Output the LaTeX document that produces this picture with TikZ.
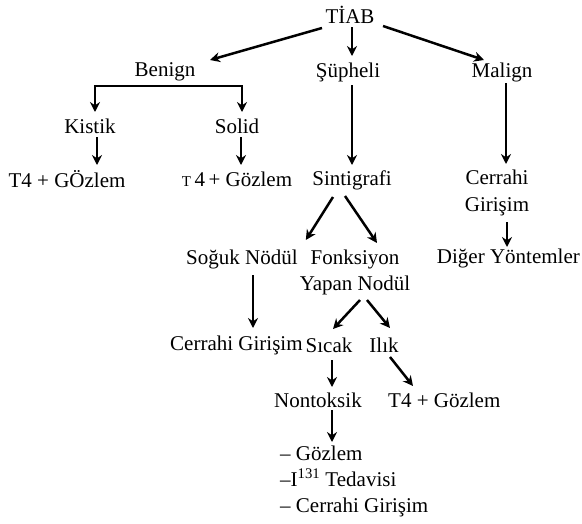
\documentclass[tikz,border=0pt]{standalone}
\usepackage{fontspec}
\setmainfont{Liberation Serif}
\usetikzlibrary{arrows.meta}
\begin{document}
\begin{tikzpicture}[x=1pt,y=-1pt,
  lbl/.style={inner sep=0pt,font=\fontsize{21}{26}\selectfont},
  arr/.style={line width=2.5pt,-{Stealth[length=10pt,width=10pt]}},
  bar/.style={line width=2.5pt}]
\useasboundingbox[fill=white] (0,0) rectangle (582,523);
% nodes
\node[lbl] (tiab) at (350,15) {TİAB};
\node[lbl] (benign) at (165,72) {Benign};
\node[lbl] (supheli) at (348,72) {Şüpheli};
\node[lbl] (malign) at (502,72) {Malign};
\node[lbl] (kistik) at (90,126) {Kistik};
\node[lbl] (solid) at (237,126) {Solid};
\node[lbl] (t4a) at (67,179) {T4 + GÖzlem};
\node[lbl] (t4b) at (237,179) {{\fontsize{15}{15}\selectfont T}\,4\,+ Gözlem};
\node[lbl] (sinti) at (352,180) {Sintigrafi};
\node[lbl,align=center,font=\fontsize{21}{27}\selectfont] (cerrahi) at (497,193) {Cerrahi\\Girişim};
\node[lbl,anchor=east] (diger) at (580,258) {Diğer Yöntemler};
\node[lbl,anchor=west] (soguk) at (186,259) {Soğuk Nödül};
\node[lbl,align=center] (fonk) at (355,272) {Fonksiyon\\Yapan Nodül};
\node[lbl,anchor=west] (cg) at (170,345) {Cerrahi Girişim};
\node[lbl] (sicak) at (329,345) {Sıcak};
\node[lbl] (ilik) at (384,345) {Ilık};
\node[lbl] (nontoksik) at (318,400) {Nontoksik};
\node[lbl,anchor=west] (t4c) at (388,400) {T4 + Gözlem};
\node[lbl,anchor=west,align=left] (list) at (280,481) {– Gözlem\\–I\textsuperscript{131} Tedavisi\\– Cerrahi Girişim};
% connectors
\draw[arr] ([shift={(-28,13)}]tiab.center) -- ([shift={(45,-12)}]benign.center);
\draw[arr] ([shift={(2,12)}]tiab.center) -- ([shift={(4,-16)}]supheli.center);
\draw[arr] ([shift={(33,11)}]tiab.center) -- ([shift={(-18,-12)}]malign.center);
\coordinate (bl) at (95,86);
\coordinate (br) at (242,86);
\draw[bar] ([xshift=-1.25pt]bl) -- ([xshift=1.25pt]br);
\draw[arr] (bl) -- ([shift={(5,-14)}]kistik.center);
\draw[arr] (br) -- ([shift={(5,-14)}]solid.center);
\draw[arr] ([shift={(7,11)}]kistik.center) -- ([shift={(30,-14)}]t4a.center);
\draw[arr] ([shift={(4,11)}]solid.center) -- ([shift={(4,-14)}]t4b.center);
\draw[arr] ([shift={(4,13)}]supheli.center) -- ([shift={(0,-15)}]sinti.center);
\draw[arr] ([shift={(4,11)}]malign.center) -- ([shift={(9,-29)}]cerrahi.center);
\draw[arr] ([shift={(10,29)}]cerrahi.center) -- ([shift={(-73,-11)}]diger.east);
\draw[arr] ([shift={(-19,17)}]sinti.center) -- ([shift={(8,-19)}]soguk.east);
\draw[arr] ([shift={(-7,16)}]sinti.center) -- ([shift={(22,-29)}]fonk.center);
\draw[arr] ([shift={(67,16)}]soguk.west) -- ([shift={(83,-17)}]cg.west);
\draw[arr] ([shift={(5,28)}]fonk.center) -- ([shift={(4,-16)}]sicak.center);
\draw[arr] ([shift={(12,28)}]fonk.center) -- ([shift={(6,-17)}]ilik.center);
\draw[arr] ([shift={(3,15)}]sicak.center) -- ([shift={(14,-13)}]nontoksik.center);
\draw[arr] ([shift={(6,12)}]ilik.center) -- ([shift={(25,-14)}]t4c.west);
\draw[arr] ([shift={(14,10)}]nontoksik.center) -- ([shift={(52,-39)}]list.west);
\end{tikzpicture}
\end{document}
